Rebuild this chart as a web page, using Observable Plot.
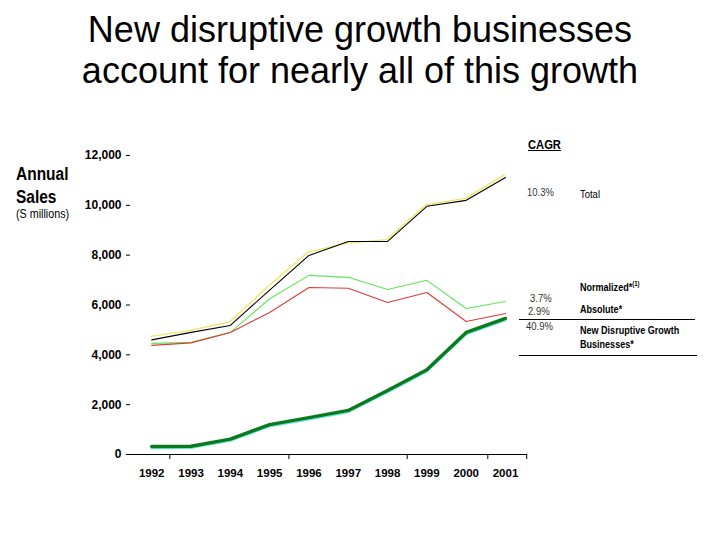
<!DOCTYPE html>
<html><head><meta charset="utf-8">
<script src="https://cdn.jsdelivr.net/npm/d3@7"></script>
<script src="https://cdn.jsdelivr.net/npm/@observablehq/plot@0.6"></script>
<style>
body{margin:0;background:#fff;}
#wrap{position:relative;width:720px;height:540px;overflow:hidden;font-family:"Liberation Sans",Arial,sans-serif;}
#title{position:absolute;left:0;top:9px;width:720px;text-align:center;font-size:36px;line-height:41px;color:#000;}
.t{position:absolute;white-space:nowrap;color:#000;transform:scaleX(0.86);transform-origin:0 0;}
</style></head>
<body><div id="wrap">
<div id="title">New disruptive growth businesses<br>account for nearly all of this growth</div>
<div class="t" style="left:16px;top:163px;font-size:18px;font-weight:bold;line-height:23px;">Annual<br>Sales</div>
<div class="t" style="left:16px;top:207px;font-size:12.5px;">(S millions)</div>
<div class="t" style="left:528px;top:137px;font-size:13px;font-weight:bold;text-decoration:underline;">CAGR</div>
<div class="t" style="left:527px;top:186px;font-size:11px;color:#333;">10.3%</div>
<div class="t" style="left:580px;top:188px;font-size:11px;">Total</div>
<div class="t" style="left:580px;top:280px;font-size:10.5px;font-weight:bold;">Normalized*<sup style="font-size:7px">(1)</sup></div>
<div class="t" style="left:530px;top:292px;font-size:11px;color:#333;">3.7%</div>
<div class="t" style="left:580px;top:303px;font-size:10.5px;font-weight:bold;">Absolute*</div>
<div class="t" style="left:528px;top:305px;font-size:11px;color:#333;">2.9%</div>
<div style="position:absolute;left:519px;top:319px;width:176px;height:1px;background:#000;"></div>
<div class="t" style="left:526px;top:320px;font-size:11px;color:#333;">40.9%</div>
<div class="t" style="left:580px;top:323px;font-size:10.5px;font-weight:bold;line-height:14px;">New Disruptive Growth<br>Businesses*</div>
<div style="position:absolute;left:519px;top:355px;width:178px;height:1px;background:#000;"></div>
<div id="chart" style="position:absolute;left:0;top:0;"></div>
</div>
<script>
const years = [1992,1993,1994,1995,1996,1997,1998,1999,2000,2001];
const total = [4600,4900,5180,6600,7990,8550,8550,9960,10200,11120];
const totalShadow = [4680,4920,5260,6700,8060,8420,8560,9960,10220,11160];
const normalized = [4460,4500,4900,6250,7190,7110,6620,6990,5860,6140];
const absolute = [4380,4480,4900,5700,6700,6670,6100,6500,5340,5660];
const disruptive = [320,330,620,1200,1480,1770,2570,3400,4900,5460];
const yTicks = [0,2000,4000,6000,8000,10000,12000];
const xTickMarks = [1992.46,1995.49,1998.5,2000.55,2001.54];

const rows = (vals) => years.map((y,i)=>({year:y, value:vals[i]}));

const chart = Plot.plot({
  width:720, height:540,
  marginLeft:130, marginRight:193, marginTop:155, marginBottom:86,
  style:{fontFamily:'"Liberation Sans",Arial,sans-serif', background:"transparent", overflow:"visible"},
  x:{domain:[1991.46,2001.56]},
  y:{domain:[0,12000]},
  marks:[
    Plot.axisY({ticks:yTicks, tickFormat:d3.format(","), tickSize:4, tickPadding:5, fontSize:12, fontWeight:"bold", label:null}),
    Plot.axisX({ticks:xTickMarks, tickFormat:()=>"", tickSize:5, label:null}),
    Plot.axisX({ticks:years, tickFormat:d=>String(d), tickSize:0, tickPadding:14, fontSize:11.5, fontWeight:"bold", label:null}),
    Plot.ruleY([0],{stroke:"#000", strokeWidth:1.2}),
    Plot.line(rows(totalShadow),{x:"year",y:"value",stroke:"#f0e660",strokeWidth:1.3,dx:-1,dy:-1.5}),
    Plot.line(rows(total),{x:"year",y:"value",stroke:"#000",strokeWidth:1.1}),
    Plot.line(rows(normalized),{x:"year",y:"value",stroke:"#5ee65a",strokeWidth:1.1}),
    Plot.line(rows(absolute),{x:"year",y:"value",stroke:"#e03a3a",strokeWidth:1.1}),
    Plot.line(rows(disruptive),{x:"year",y:"value",stroke:"#6fe8dc",strokeWidth:2,dy:1.8}),
    Plot.line(rows(disruptive),{x:"year",y:"value",stroke:"#0b7a1e",strokeWidth:3.4})
  ]
});
document.getElementById("chart").appendChild(chart);
</script>
</body></html>
